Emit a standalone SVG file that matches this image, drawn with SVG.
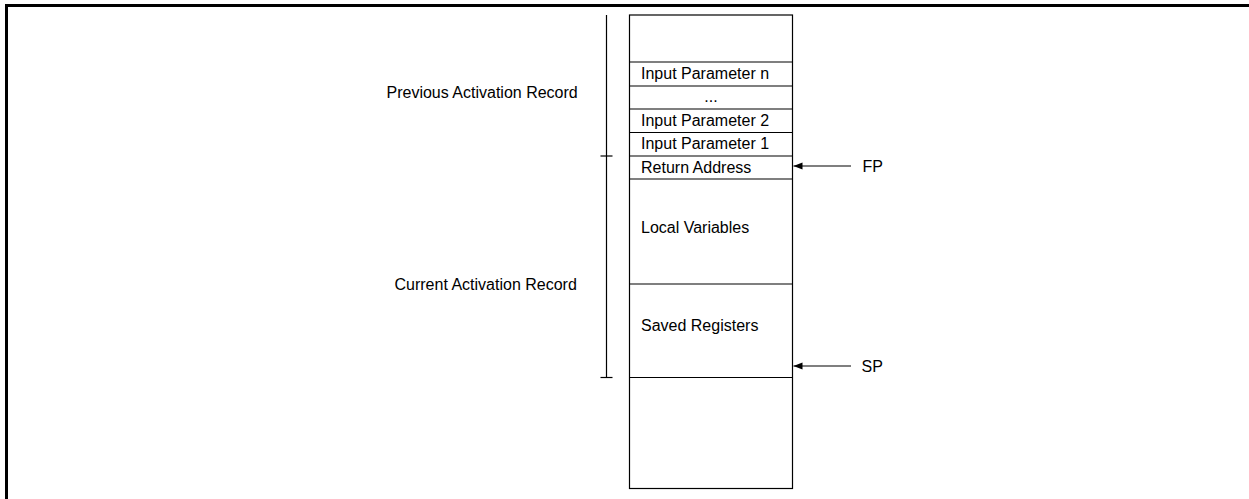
<svg xmlns="http://www.w3.org/2000/svg" width="1249" height="499" viewBox="0 0 1249 499">
<style>
text{font-family:"Liberation Sans",Arial,sans-serif;font-size:16px;fill:#000}
.ln{stroke:#000;stroke-width:1.2;fill:none}
.cell{stroke:#000;stroke-width:1.2;fill:#fff}
</style>
<defs>
<marker id="ah" markerWidth="10" markerHeight="8" refX="9" refY="3.5" orient="auto" markerUnits="userSpaceOnUse">
<path d="M0,0 L9,3.5 L0,7 Z" fill="#000"/>
</marker>
</defs>
<rect width="1249" height="499" fill="#fff"/>
<g id="frame">
<line x1="5" y1="5.5" x2="1249" y2="5.5" stroke="#000" stroke-width="3"/>
<line x1="6.5" y1="4" x2="6.5" y2="499" stroke="#000" stroke-width="3"/>
</g>
<g id="stack">
<rect class="cell" x="629.5" y="15" width="163" height="473.5"/>
<g id="cell-param-n"><line class="ln" x1="629.5" y1="62" x2="792.5" y2="62"/><text x="641" y="79">Input Parameter n</text></g>
<g id="cell-dots"><line class="ln" x1="629.5" y1="86" x2="792.5" y2="86"/><text x="711" y="102" text-anchor="middle">...</text></g>
<g id="cell-param-2"><line class="ln" x1="629.5" y1="109" x2="792.5" y2="109"/><text x="641" y="126">Input Parameter 2</text></g>
<g id="cell-param-1"><line class="ln" x1="629.5" y1="132.5" x2="792.5" y2="132.5"/><text x="641" y="149">Input Parameter 1</text></g>
<g id="cell-return"><line class="ln" x1="629.5" y1="156" x2="792.5" y2="156"/><text x="641" y="172.5">Return Address</text></g>
<g id="cell-locals"><line class="ln" x1="629.5" y1="179" x2="792.5" y2="179"/><text x="641" y="232.5">Local Variables</text></g>
<g id="cell-saved"><line class="ln" x1="629.5" y1="284" x2="792.5" y2="284"/><text x="641" y="330.5">Saved Registers</text></g>
<g id="cell-bottom"><line class="ln" x1="629.5" y1="377.5" x2="792.5" y2="377.5"/></g>
</g>
<g id="bracket">
<line class="ln" x1="606.5" y1="15" x2="606.5" y2="377.5"/>
<line class="ln" x1="600.5" y1="156" x2="612.5" y2="156"/>
<line class="ln" x1="600.5" y1="377.5" x2="612.5" y2="377.5"/>
</g>
<g id="label-prev"><text x="386.5" y="97.5">Previous Activation Record</text></g>
<g id="label-curr"><text x="394.5" y="290">Current Activation Record</text></g>
<g id="label-fp"><text x="862.5" y="171.5">FP</text></g>
<g id="label-sp"><text x="861.5" y="371.5">SP</text></g>
<g id="connectors">
<line class="ln" x1="851" y1="166" x2="793.5" y2="166" marker-end="url(#ah)"/>
<line class="ln" x1="851" y1="366" x2="793.5" y2="366" marker-end="url(#ah)"/>
</g>
</svg>
